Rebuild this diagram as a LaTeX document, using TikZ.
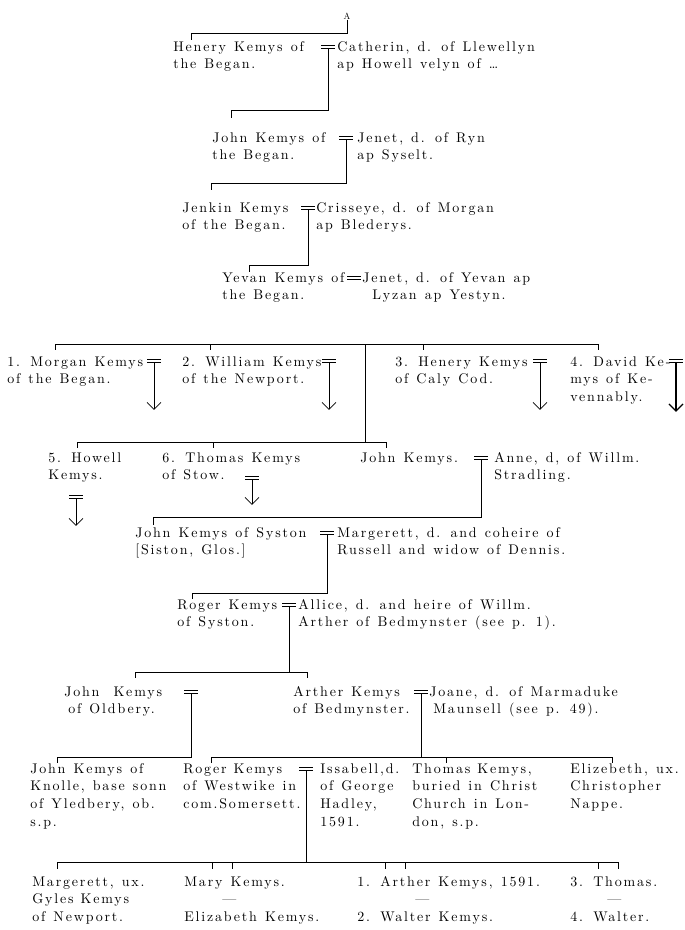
\documentclass[tikz,border=0pt]{standalone}
\usepackage{fontspec}
\setmainfont{lmroman10-regular.otf}[LetterSpace=13, WordSpace=1.25]
\usetikzlibrary{arrows.meta}
\newcommand{\lns}[1]{\begin{tabular}[t]{@{}l@{}}#1\end{tabular}}

\begin{document}
\begin{tikzpicture}[x=1pt, y=1pt, line width=0.6pt,
    person/.style={anchor=base west, inner sep=0pt, font=\fontsize{14}{17.7}\selectfont},
    sigil/.style={inner sep=0pt, font=\fontsize{9}{9}\selectfont},
    wed/.style={minimum width=14pt, minimum height=3.5pt, inner sep=0pt, outer sep=0pt,
      append after command={(\tikzlastnode.north west) edge (\tikzlastnode.north east)
        (\tikzlastnode.south west) edge (\tikzlastnode.south east)}},
    issue/.style={-{Straight Barb[length=7pt, width=14pt]}}]
    \useasboundingbox (0,0) rectangle (685,-930);

    % Henery and Catherin
    \node[sigil] (A) at (347,-16) {A};
    \node[person] (henery) at (173,-51) {\lns{Henery Kemys of\\the Began.}};
    \node[wed] (w1) at (328,-47) {};
    \node[person] (catherin) at (337,-51) {\lns{Catherin, d. of Llewellyn\\ap Howell velyn of \dots}};
    \coordinate (t0) at (191,-40);
    \draw (A.south) |- ([yshift=7pt]t0) -- (t0);

    % John and Jenet
    \node[person] (john1) at (212,-142) {\lns{John Kemys of\\the Began.}};
    \node[wed] (w2) at (346,-138) {};
    \node[person] (jenet1) at (357,-142) {\lns{Jenet, d. of Ryn\\ap Syselt.}};
    \coordinate (t1) at (231,-118);
    \draw (w1.south) |- ([yshift=8pt]t1) -- (t1);

    % Jenkin and Crisseye
    \node[person] (jenkin) at (182,-212) {\lns{Jenkin Kemys\\of the Began.}};
    \node[wed] (w3) at (308,-208) {};
    \node[person] (crisseye) at (316,-212) {\lns{Crisseye, d. of Morgan\\ap Blederys.}};
    \coordinate (t2) at (211,-190);
    \draw (w2.south) |- ([yshift=7pt]t2) -- (t2);

    % Yevan and Jenet
    \node[person] (yevan) at (222,-282) {\lns{Yevan Kemys of\\the Began.}};
    \node[wed] (w4) at (354,-278) {};
    \node[person] (jenet2) at (362,-282) {\lns{Jenet, d. of Yevan ap\\\hspace{10pt}Lyzan ap Yestyn.}};
    \coordinate (t3) at (249,-272);
    \draw (w3.south) |- ([yshift=7pt]t3) -- (t3);

    % sons of Yevan
    \node[person] (morgan) at (7,-366) {\lns{1. Morgan Kemys\\of the Began.}};
    \node[wed] (w5) at (154,-361) {};
    \node[person] (william) at (182,-366) {\lns{2. William Kemys\\of the Newport.}};
    \node[wed] (w6) at (329,-361) {};
    \node[person] (henery2) at (395,-366) {\lns{3. Henery Kemys\\of Caly Cod.}};
    \node[wed] (w7) at (540,-361) {};
    \node[person] (david) at (570,-366) {\lns{4. David Ke-\\mys of Ke-\\vennably.}};
    \node[wed] (w8) at (676,-361) {};
    \foreach \w in {w5,w6,w7}
        \draw[issue] (\w.south) -- ++(0,-47);
    \draw[issue, line width=1.1pt] (w8.south) -- ++(0,-49);

    \coordinate (k1) at (365,-344);
    \coordinate (t5) at (55,-350);
    \coordinate (t6) at (210,-350);
    \coordinate (t7) at (423,-350);
    \coordinate (t8) at (598,-350);
    \foreach \t in {t5,t6,t7,t8}
        \draw (k1) -| (\t);

    % Howell, Thomas, John
    \coordinate (k2) at (365,-442);
    \draw (k1) -- (k2);
    \node[person] (howell) at (48,-462) {\lns{5. Howell\\Kemys.}};
    \node[wed] (w9) at (76,-497) {};
    \node[person] (thomas6) at (162,-462) {\lns{6. Thomas Kemys\\of Stow.}};
    \node[wed] (w10) at (252,-478) {};
    \node[person] (john3) at (360,-462) {\lns{John Kemys.}};
    \node[wed] (w11) at (481,-458) {};
    \node[person] (anne) at (494,-462) {\lns{Anne, d, of Willm.\\Stradling.}};
    \coordinate (t9) at (77,-448);
    \coordinate (t10) at (213,-448);
    \coordinate (t11) at (386,-448);
    \foreach \t in {t9,t10,t11}
        \draw (k2) -| (\t);
    \draw[issue] (w9.south) -- ++(0,-27);
    \draw[issue] (w10.south) -- ++(0,-25);

    % John of Syston
    \node[person] (syston) at (135,-537) {\lns{John Kemys of Syston\\{}[Siston, Glos.]}};
    \node[wed] (w12) at (327,-533) {};
    \node[person] (margerett1) at (337,-537) {\lns{Margerett, d. and coheire of\\Russell and widow of Dennis.}};
    \coordinate (t12) at (153,-525);
    \draw (w11.south) |- ([yshift=8pt]t12) -- (t12);

    % Roger of Syston
    \node[person] (roger1) at (177,-609) {\lns{Roger Kemys\\of Syston.}};
    \node[wed] (w13) at (289,-605) {};
    \node[person] (allice) at (298,-609) {\lns{Allice, d. and heire of Willm.\\Arther of Bedmynster (see p. 1).}};
    \coordinate (t13) at (192,-599);
    \draw (w12.south) |- ([yshift=6pt]t13) -- (t13);

    % John of Oldbery, Arther of Bedmynster
    \node[person] (johnO) at (64,-696) {\lns{John\quad Kemys\\\hspace{4pt}of Oldbery.}};
    \node[wed] (w14) at (191,-692) {};
    \node[person] (artherB) at (293,-696) {\lns{Arther Kemys\\of Bedmynster.}};
    \node[wed] (w15) at (421,-692) {};
    \node[person] (joane) at (429,-696) {\lns{Joane, d. of Marmaduke\\\hspace{4pt}Maunsell (see p. 49).}};
    \coordinate (t14) at (135,-678);
    \coordinate (t15) at (307,-678);
    \foreach \t in {t14,t15}
        \draw (w13.south) |- ([yshift=6pt]\t) -- (\t);

    % next generation
    \node[person] (johnK) at (30,-773) {\lns{John Kemys of\\Knolle, base sonn\\of Yledbery, ob.\\s.p.}};
    \node[person] (rogerW) at (183,-773) {\lns{Roger\enspace Kemys\\of Westwike in\\com.Somersett.}};
    \node[wed] (w16) at (306,-769) {};
    \node[person] (issabell) at (320,-773) {\lns{Issabell,d.\\of George\\Hadley,\\1591.}};
    \node[person] (thomasK) at (412,-773) {\lns{Thomas\enspace Kemys,\\buried in Christ\\Church in Lon-\\don, s.p.}};
    \node[person] (elizebeth) at (570,-773) {\lns{Elizebeth, ux.\\Christopher\\Nappe.}};
    \coordinate (t16) at (57,-763);
    \coordinate (t17) at (211,-763);
    \coordinate (t18) at (446,-763);
    \coordinate (t19) at (612,-763);
    \draw (w14.south) |- ([yshift=6pt]t16) -- (t16);
    \foreach \t in {t17,t18,t19}
        \draw (w15.south) |- ([yshift=6pt]\t) -- (\t);

    % children of Roger and Issabell
    \node[person] (margerett2) at (32,-886) {\lns{Margerett, ux.\\Gyles\enspace Kemys\\of Newport.}};
    \node[person] (mary) at (184,-886) {\lns{Mary Kemys.\\\hspace{38pt}\textemdash\\Elizabeth Kemys.}};
    \node[person] (arther1) at (357,-886) {\lns{1. Arther Kemys, 1591.\\\hspace{58pt}\textemdash\\2. Walter Kemys.}};
    \node[person] (thomas3) at (570,-886) {\lns{3. Thomas.\\\hspace{37pt}\textemdash\\4. Walter.}};
    \coordinate (t20) at (57,-869);
    \coordinate (t21) at (212,-869);
    \coordinate (t22) at (232,-869);
    \coordinate (t23) at (385,-869);
    \coordinate (t24) at (405,-869);
    \coordinate (t25) at (598,-869);
    \coordinate (t26) at (618,-869);
    \foreach \t in {t20,t21,t22,t23,t24,t25,t26}
        \draw (w16.south) |- ([yshift=7pt]\t) -- (\t);
\end{tikzpicture}
\end{document}
